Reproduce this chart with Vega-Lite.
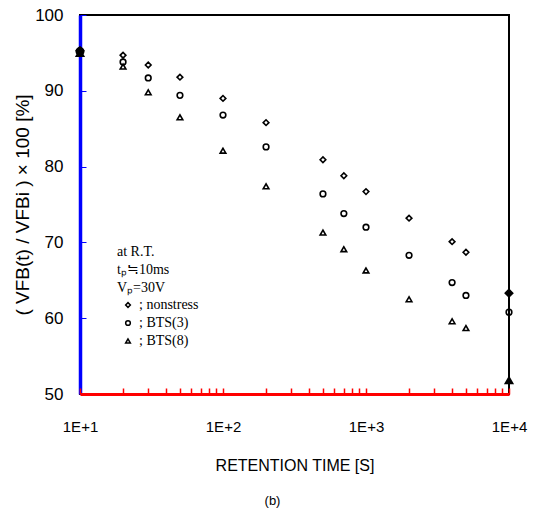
{
  "$schema": "https://vega.github.io/schema/vega-lite/v6.json",
  "width": 429,
  "height": 379,
  "autosize": {"type": "none"},
  "padding": {"left": 80, "top": 15, "right": 36, "bottom": 130},
  "background": "white",
  "title": {"text": "(b)", "orient": "bottom", "font": "Liberation Sans", "fontSize": 13, "fontWeight": "normal", "color": "black", "offset": 22, "dx": -22},
  "config": {
    "view": {"stroke": "black", "strokeWidth": 2},
    "axis": {"grid": false, "labelColor": "black", "titleColor": "black", "labelFont": "Liberation Sans", "titleFont": "Liberation Sans", "titleFontWeight": "normal"}
  },
  "data": {
    "values": [
      {"t": 10, "v": 95.3, "series": "nonstress", "solid": "yes"},
      {"t": 10, "v": 95.2, "series": "BTS(3)", "solid": "yes"},
      {"t": 10, "v": 95.0, "series": "BTS(8)", "solid": "yes"},
      {"t": 20, "v": 94.7, "series": "nonstress", "solid": "no"},
      {"t": 30, "v": 93.4, "series": "nonstress", "solid": "no"},
      {"t": 50, "v": 91.8, "series": "nonstress", "solid": "no"},
      {"t": 100, "v": 89.0, "series": "nonstress", "solid": "no"},
      {"t": 200, "v": 85.8, "series": "nonstress", "solid": "no"},
      {"t": 500, "v": 80.9, "series": "nonstress", "solid": "no"},
      {"t": 700, "v": 78.8, "series": "nonstress", "solid": "no"},
      {"t": 1000, "v": 76.7, "series": "nonstress", "solid": "no"},
      {"t": 2000, "v": 73.2, "series": "nonstress", "solid": "no"},
      {"t": 4000, "v": 70.1, "series": "nonstress", "solid": "no"},
      {"t": 5000, "v": 68.7, "series": "nonstress", "solid": "no"},
      {"t": 10000, "v": 63.3, "series": "nonstress", "solid": "yes"},
      {"t": 20, "v": 93.8, "series": "BTS(3)", "solid": "no"},
      {"t": 30, "v": 91.7, "series": "BTS(3)", "solid": "no"},
      {"t": 50, "v": 89.4, "series": "BTS(3)", "solid": "no"},
      {"t": 100, "v": 86.8, "series": "BTS(3)", "solid": "no"},
      {"t": 200, "v": 82.6, "series": "BTS(3)", "solid": "no"},
      {"t": 500, "v": 76.4, "series": "BTS(3)", "solid": "no"},
      {"t": 700, "v": 73.8, "series": "BTS(3)", "solid": "no"},
      {"t": 1000, "v": 72.0, "series": "BTS(3)", "solid": "no"},
      {"t": 2000, "v": 68.3, "series": "BTS(3)", "solid": "no"},
      {"t": 4000, "v": 64.7, "series": "BTS(3)", "solid": "no"},
      {"t": 5000, "v": 63.0, "series": "BTS(3)", "solid": "no"},
      {"t": 10000, "v": 60.8, "series": "BTS(3)", "solid": "no"},
      {"t": 20, "v": 93.2, "series": "BTS(8)", "solid": "no"},
      {"t": 30, "v": 89.8, "series": "BTS(8)", "solid": "no"},
      {"t": 50, "v": 86.5, "series": "BTS(8)", "solid": "no"},
      {"t": 100, "v": 82.1, "series": "BTS(8)", "solid": "no"},
      {"t": 200, "v": 77.4, "series": "BTS(8)", "solid": "no"},
      {"t": 500, "v": 71.3, "series": "BTS(8)", "solid": "no"},
      {"t": 700, "v": 69.1, "series": "BTS(8)", "solid": "no"},
      {"t": 1000, "v": 66.3, "series": "BTS(8)", "solid": "no"},
      {"t": 2000, "v": 62.5, "series": "BTS(8)", "solid": "no"},
      {"t": 4000, "v": 59.6, "series": "BTS(8)", "solid": "no"},
      {"t": 5000, "v": 58.7, "series": "BTS(8)", "solid": "no"},
      {"t": 10000, "v": 51.8, "series": "BTS(8)", "solid": "yes"}
    ]
  },
  "mark": {"type": "point", "filled": true, "stroke": "black", "strokeWidth": 1.6, "size": 32, "opacity": 1, "clip": false},
  "encoding": {
    "x": {
      "field": "t", "type": "quantitative",
      "scale": {"type": "log", "domain": [10, 10000]},
      "axis": {
        "values": [10, 20, 30, 40, 50, 60, 70, 80, 90, 100, 200, 300, 400, 500, 600, 700, 800, 900, 1000, 2000, 3000, 4000, 5000, 6000, 7000, 8000, 9000, 10000],
        "labelExpr": "indexof([10, 100, 1000, 10000], datum.value) >= 0 ? '1E+' + round(log(datum.value) / LN10) : ''",
        "labelFlush": false, "labelOverlap": false, "zindex": 1,
        "tickSize": -6, "tickWidth": 1.5, "tickColor": "red", "domainColor": "red", "domainWidth": 3,
        "labelFontSize": 15, "labelPadding": 31,
        "title": "RETENTION TIME [S]", "titleFontSize": 16, "titlePadding": 23
      }
    },
    "y": {
      "field": "v", "type": "quantitative",
      "scale": {"domain": [50, 100], "nice": false, "zero": false},
      "axis": {
        "tickCount": 5,
        "tickSize": -6, "tickColor": "blue", "domainColor": "blue", "domainWidth": 3.5,
        "labelFontSize": 17, "labelPadding": 23,
        "title": "( VFB(t) / VFBi ) × 100 [%]", "titleFontSize": 19, "titlePadding": 2
      }
    },
    "fill": {
      "field": "solid", "type": "nominal",
      "scale": {"domain": ["no", "yes"], "range": ["transparent", "black"]},
      "legend": null
    },
    "size": {
      "field": "solid", "type": "nominal",
      "scale": {"domain": ["no", "yes"], "range": [32, 55]},
      "legend": null
    },
    "shape": {
      "field": "series", "type": "nominal",
      "scale": {"domain": ["nonstress", "BTS(3)", "BTS(8)"], "range": ["diamond", "circle", "triangle-up"]},
      "legend": {
        "orient": "none", "legendX": 37, "legendY": 230, "padding": 0,
        "title": ["at R.T.", "tₚ≒10ms", "Vₚ=30V"],
        "titleFont": "Liberation Serif", "titleFontSize": 14, "titleFontWeight": "normal", "titleColor": "black", "titleLineHeight": 18, "titlePadding": 3,
        "labelFont": "Liberation Serif", "labelFontSize": 14, "labelColor": "black",
        "labelExpr": "'; ' + datum.label",
        "symbolSize": 22, "symbolStrokeWidth": 1.5, "symbolStrokeColor": "black", "symbolFillColor": "transparent", "symbolOffset": 4, "labelOffset": 4, "rowPadding": 4
      }
    }
  }
}
